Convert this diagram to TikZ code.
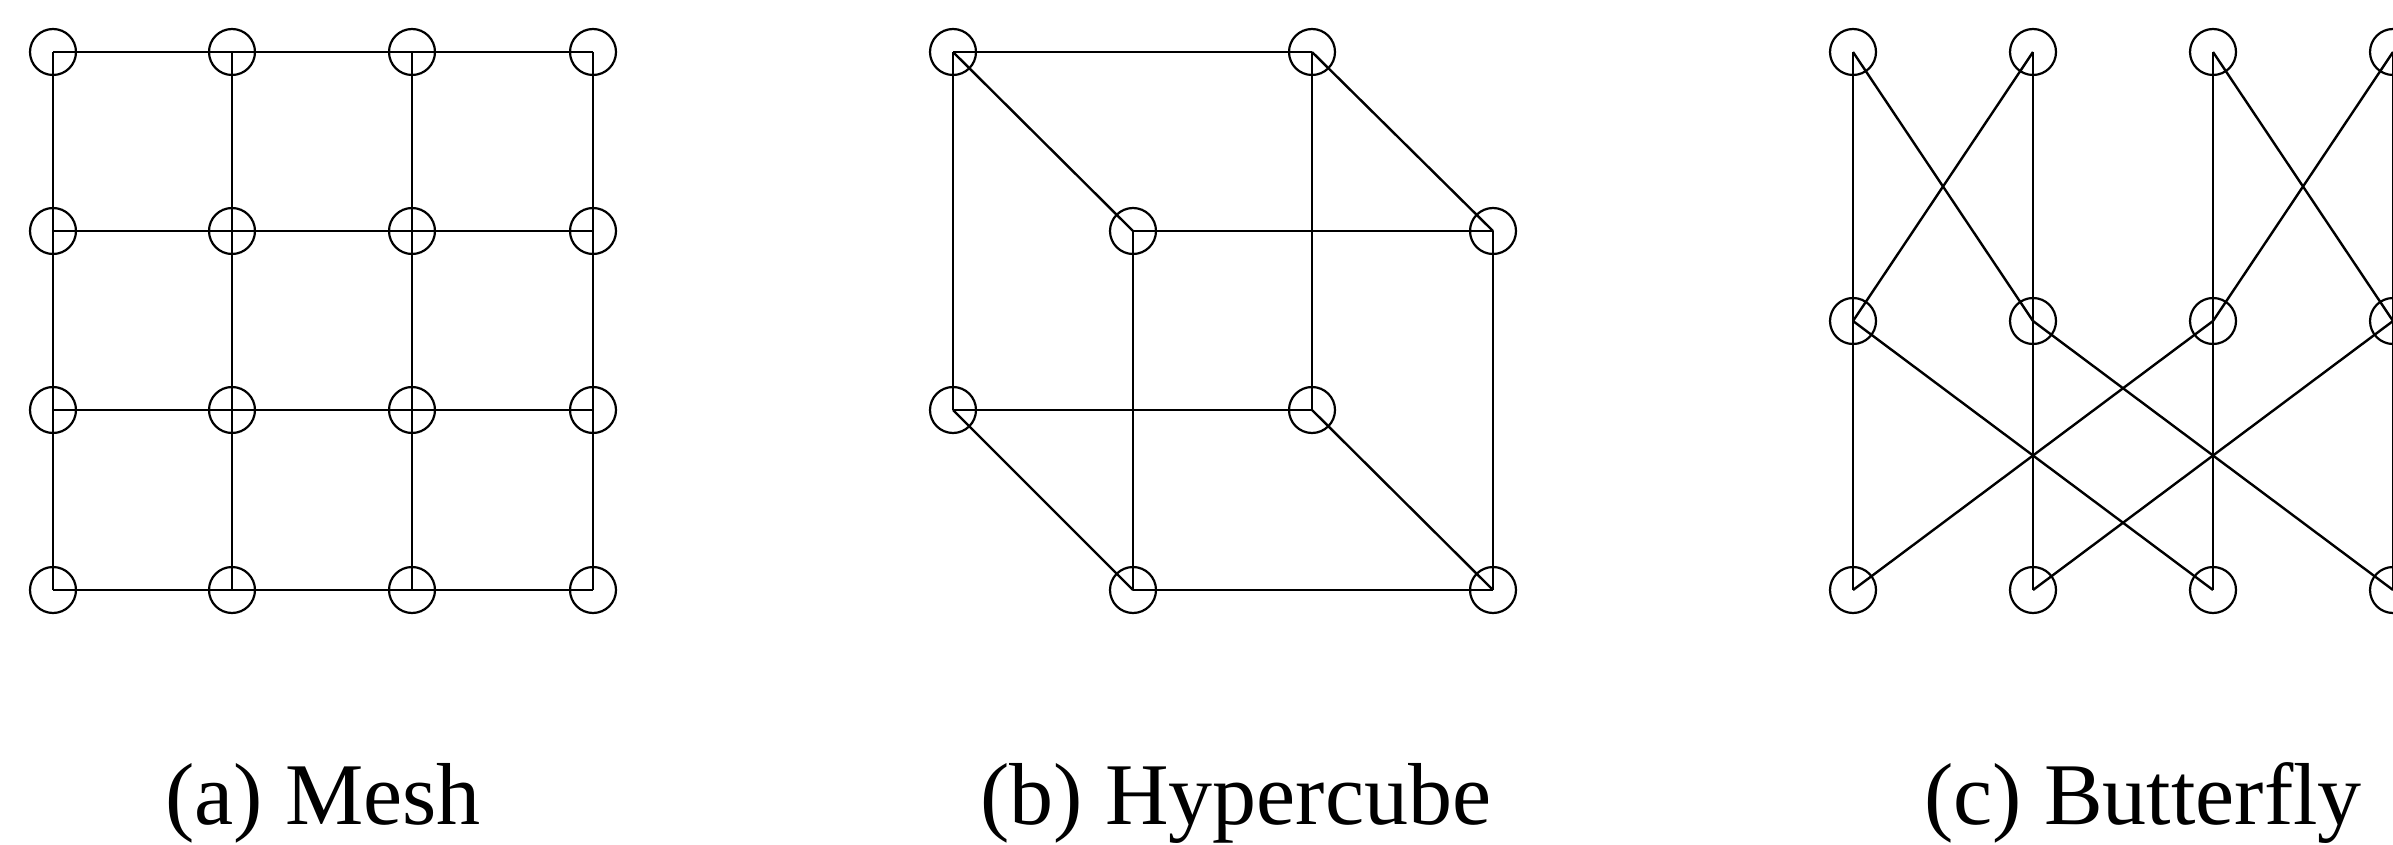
\documentclass[tikz,border=0pt]{standalone}
\usepackage{fontspec}
\setmainfont{Liberation Serif}
\begin{document}
\begin{tikzpicture}[x=0.5pt,y=-0.5pt,
  pe/.style={circle,draw,line width=1.1pt,minimum size=23pt,inner sep=0pt},
  link/.style={line width=1.2pt},
  caption/.style={anchor=base,inner sep=0pt,font=\fontsize{44}{52}\selectfont}]
\useasboundingbox (0,0) rectangle (2393,845);
% ---------- Mesh ----------
\foreach \r/\y in {1/52,2/231,3/410,4/590}{
  \foreach \c/\x in {1/53,2/232,3/412,4/593}{
    \node[pe] (m\r\c) at (\x,\y) {};
  }
}
\foreach \r in {1,2,3,4}{
  \draw[link] (m\r1.center) -- (m\r2.center) -- (m\r3.center) -- (m\r4.center);
  \draw[link] (m1\r.center) -- (m2\r.center) -- (m3\r.center) -- (m4\r.center);
}
\node[caption] (la) at (323,824) {(a) Mesh};
% ---------- Hypercube ----------
\node[pe] (h000) at (953,52) {};
\node[pe] (h100) at (1312,52) {};
\node[pe] (h001) at (1133,231) {};
\node[pe] (h101) at (1493,231) {};
\node[pe] (h010) at (953,410) {};
\node[pe] (h110) at (1312,410) {};
\node[pe] (h011) at (1133,590) {};
\node[pe] (h111) at (1493,590) {};
\foreach \a/\b in {000/100,000/001,100/101,001/101,000/010,100/110,001/011,101/111,010/110,010/011,110/111,011/111}{
  \draw[link] (h\a.center) -- (h\b.center);
}
\node[caption] (lb) at (1236,824) {(b) Hypercube};
% ---------- Butterfly ----------
\foreach \r/\y in {0/52,1/321,2/590}{
  \foreach \c/\x in {0/1853,1/2033,2/2213,3/2393}{
    \node[pe] (b\r\c) at (\x,\y) {};
  }
}
\foreach \c in {0,1,2,3}{
  \draw[link] (b0\c.center) -- (b1\c.center) -- (b2\c.center);
}
\foreach \a/\b in {0/1,1/0,2/3,3/2}{
  \draw[link] (b0\a.center) -- (b1\b.center);
}
\foreach \a/\b in {0/2,2/0,1/3,3/1}{
  \draw[link] (b1\a.center) -- (b2\b.center);
}
\node[caption] (lc) at (2143,824) {(c) Butterfly};
\end{tikzpicture}
\end{document}
